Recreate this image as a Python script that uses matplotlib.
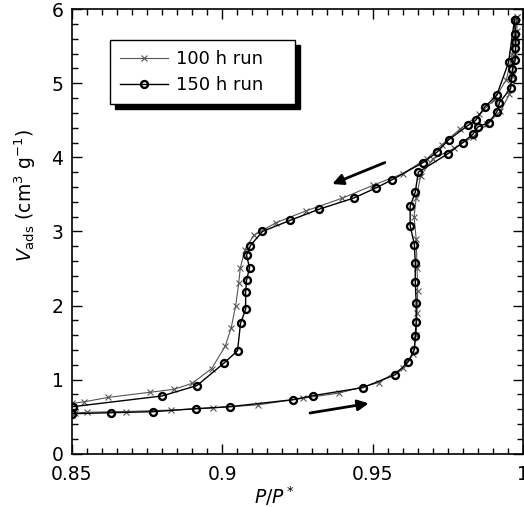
import matplotlib
matplotlib.use("Agg")
import matplotlib.pyplot as plt
from matplotlib.ticker import MultipleLocator

plt.rcParams['font.family'] = ['DejaVu Sans']
plt.rcParams['mathtext.fontset'] = 'dejavusans'

# 150 h run, adsorption (lower branch) then desorption (upper branch)
p_ads_150 = [0.850, 0.8629, 0.8771, 0.8913, 0.9025, 0.9236, 0.9302, 0.9467, 0.9576,
             0.9619, 0.9639, 0.9642, 0.9645, 0.9645, 0.9642, 0.9642, 0.9639, 0.9625,
             0.9625, 0.9642, 0.9652, 0.9751, 0.9800, 0.9833, 0.9850, 0.9886, 0.9913,
             0.9922, 0.9959, 0.9962, 0.9965, 0.9975, 0.9975, 0.9975, 0.9975, 0.9972]
v_ads_150 = [0.54, 0.554, 0.568, 0.608, 0.635, 0.730, 0.784, 0.892, 1.068,
             1.243, 1.405, 1.595, 1.784, 2.04, 2.32, 2.58, 2.82, 3.08,
             3.34, 3.53, 3.80, 4.05, 4.20, 4.31, 4.41, 4.47, 4.61,
             4.74, 4.93, 5.07, 5.19, 5.32, 5.47, 5.55, 5.66, 5.86]
p_des_150 = [0.9972, 0.9952, 0.9913, 0.9873, 0.9843, 0.9817, 0.9754, 0.9714, 0.9668,
             0.9566, 0.9513, 0.9437, 0.9322, 0.9226, 0.9134, 0.9094, 0.9081, 0.9091,
             0.9081, 0.9078, 0.9078, 0.9061, 0.9051, 0.9005, 0.8916, 0.8800, 0.8503]
v_des_150 = [5.86, 5.28, 4.84, 4.68, 4.50, 4.43, 4.24, 4.07, 3.93,
             3.70, 3.59, 3.45, 3.30, 3.15, 3.00, 2.81, 2.68, 2.51,
             2.34, 2.18, 1.95, 1.76, 1.39, 1.22, 0.92, 0.78, 0.635]

# 100 h run
p_ads_100 = [0.851, 0.855, 0.868, 0.883, 0.897, 0.912, 0.927, 0.939, 0.952, 0.960,
             0.9635, 0.9645, 0.9648, 0.9650, 0.9648, 0.9645, 0.9638, 0.9645, 0.9660,
             0.9700, 0.9770, 0.9835, 0.9880, 0.9925, 0.9955, 0.9965, 0.9975, 0.998, 0.998]
v_ads_100 = [0.55, 0.56, 0.57, 0.59, 0.62, 0.66, 0.75, 0.82, 0.96, 1.16,
             1.35, 1.6, 1.9, 2.2, 2.5, 2.9, 3.2, 3.45, 3.75,
             3.98, 4.12, 4.28, 4.45, 4.62, 4.85, 5.1, 5.4, 5.7, 5.9]
p_des_100 = [0.998, 0.9965, 0.9945, 0.9905, 0.9855, 0.9790, 0.9730, 0.9680, 0.9600,
             0.9500, 0.9400, 0.9280, 0.9180, 0.9105, 0.9075, 0.9060, 0.9055, 0.9045,
             0.9030, 0.9010, 0.8965, 0.890, 0.884, 0.876, 0.862, 0.854, 0.850]
v_des_100 = [5.9, 5.4, 5.05, 4.78, 4.58, 4.38, 4.17, 3.98, 3.78,
             3.62, 3.45, 3.28, 3.12, 2.95, 2.75, 2.5, 2.3, 2.0,
             1.7, 1.45, 1.15, 0.95, 0.87, 0.83, 0.76, 0.70, 0.68]

# direction arrows (start, end)
arrow_des = [(0.9541, 3.93), (0.9366, 3.64)]
arrow_ads = [(0.9292, 0.55), (0.9487, 0.68)]

fig = plt.figure(figsize=(5.24, 5.07), dpi=100)
ax = fig.add_axes([0.137, 0.105, 0.861, 0.877])

ax.plot(p_ads_100 + p_des_100, v_ads_100 + v_des_100, color='#555555', lw=0.8,
        marker='x', ms=4, mew=0.8, label='100 h run')
ax.plot(p_ads_150 + p_des_150, v_ads_150 + v_des_150, color='black', lw=1.0,
        marker='o', ms=5, mew=1.7, mfc='none', mec='black', label='150 h run')

for start, end in (arrow_des, arrow_ads):
    ax.annotate('', xy=end, xytext=start,
                arrowprops=dict(arrowstyle='-|>', lw=2, color='black',
                                mutation_scale=16, shrinkA=0, shrinkB=0))

ax.set_xlim(0.85, 1.0)
ax.set_ylim(0, 6)
ax.xaxis.set_minor_locator(MultipleLocator(0.005))
ax.yaxis.set_major_locator(MultipleLocator(1))
ax.yaxis.set_minor_locator(MultipleLocator(0.2))
ax.set_xticks([0.85, 0.9, 0.95, 1.0])
ax.set_xticklabels(['0.85', '0.9', '0.95', '1'])
ax.tick_params(which='both', direction='in', top=True, right=True, labelsize=13.5, width=1)
ax.tick_params(which='major', length=7, pad=6)
ax.tick_params(axis='x', which='major', pad=8)
ax.tick_params(which='minor', length=4)
for s in ax.spines.values():
    s.set_linewidth(1.2)

ax.set_xlabel(r'$P/P^*$', fontsize=13.5)
ax.set_ylabel(r'$V_{\mathrm{ads}}$ (cm$^3$ g$^{-1}$)', fontsize=13.5)
ax.xaxis.set_label_coords(0.45, -0.068)
ax.yaxis.set_label_coords(-0.075, 0.58)

leg = ax.legend(loc='upper left', bbox_to_anchor=(0.084, 0.83, 0.41, 0.10),
                mode='expand', borderaxespad=0,
                fontsize=13, frameon=True, fancybox=False, handlelength=2.7,
                handletextpad=0.45, borderpad=0.55, labelspacing=0.45,
                shadow={'color': 'black', 'alpha': 1.0, 'ox': 3.5, 'oy': -3.5})
leg.get_frame().set_edgecolor('black')
leg.get_frame().set_linewidth(1.0)
leg.get_frame().set_alpha(1.0)

fig.savefig('out.png', dpi=100)
